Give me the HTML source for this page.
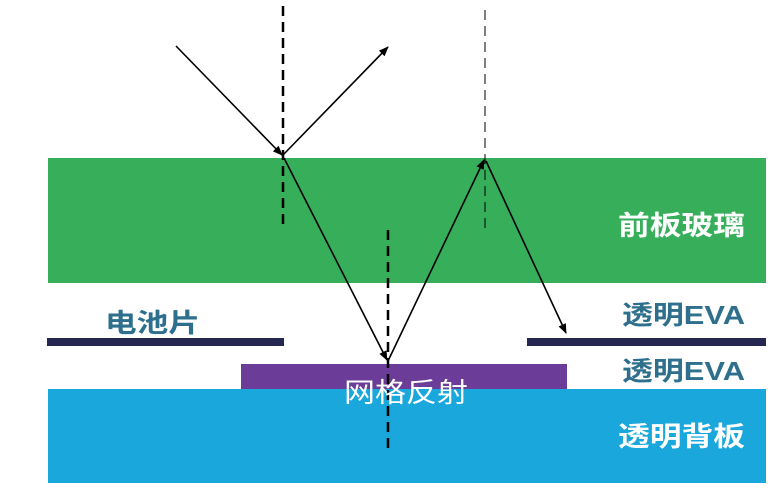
<!DOCTYPE html>
<html><head><meta charset="utf-8"><style>
body{margin:0;width:782px;height:498px;background:#fff;overflow:hidden}
svg{display:block}
text{font-family:"Liberation Sans","Noto Sans CJK SC",sans-serif;font-weight:bold}
</style></head><body>
<svg width="782" height="498" viewBox="0 0 782 498">
<defs><marker id="a" markerWidth="10" markerHeight="8" refX="9" refY="4" orient="auto" markerUnits="userSpaceOnUse"><path d="M0,0 L10,4 L0,8z" fill="#000"/></marker></defs>
<rect x="48" y="158" width="718" height="125" fill="#37ae5a"/>
<rect x="241" y="364" width="326" height="26" fill="#6b3d98"/>
<rect x="48" y="389" width="718" height="94" fill="#19a7dc"/>
<rect x="47" y="338" width="237" height="8" fill="#262750"/>
<rect x="527" y="338" width="239" height="8" fill="#262750"/>
<line x1="283" y1="6" x2="283" y2="228" stroke="#000" stroke-width="2.5" stroke-dasharray="10,6"/>
<line x1="485" y1="10" x2="485" y2="230" stroke="#000" stroke-width="1" stroke-dasharray="10,6"/>
<line x1="388" y1="230" x2="388" y2="450" stroke="#000" stroke-width="2.5" stroke-dasharray="10,6"/>
<g stroke="#000" stroke-width="1.6" fill="none">
<line x1="176" y1="46" x2="282" y2="155" marker-end="url(#a)"/>
<line x1="283" y1="155" x2="388" y2="47" marker-end="url(#a)"/>
<line x1="284" y1="158" x2="387" y2="360" marker-end="url(#a)"/>
<line x1="388" y1="361" x2="484" y2="160" marker-end="url(#a)"/>
<line x1="486" y1="161" x2="566" y2="333" marker-end="url(#a)"/>
</g>
<text x="618" y="235" font-size="27" fill="#fff" textLength="127" lengthAdjust="spacingAndGlyphs">前板玻璃</text>
<text x="105" y="332" font-size="26" fill="#2d6f8d" textLength="95" lengthAdjust="spacingAndGlyphs">电池片</text>
<text x="622" y="324" font-size="26" fill="#2d6f8d" textLength="123" lengthAdjust="spacingAndGlyphs">透明EVA</text>
<text x="622" y="380" font-size="26" fill="#2d6f8d" textLength="123" lengthAdjust="spacingAndGlyphs">透明EVA</text>
<text x="344" y="402" font-size="27" fill="#fff" textLength="124" lengthAdjust="spacingAndGlyphs" style="font-weight:normal">网格反射</text>
<text x="618" y="446" font-size="27" fill="#fff" textLength="127" lengthAdjust="spacingAndGlyphs">透明背板</text>
</svg>
</body></html>
